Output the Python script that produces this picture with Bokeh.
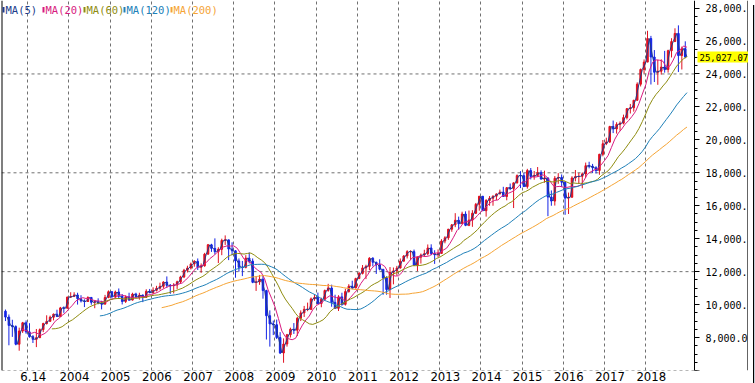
import numpy as np
import pandas as pd
from bokeh.plotting import figure
from bokeh.layouts import row
from bokeh.models import (FixedTicker, Label, BoxAnnotation, Span, Div, LinearAxis,
                          ColumnDataSource, Range1d)
from bokeh.embed import file_html
from bokeh.resources import INLINE

# ---------------- data (monthly bars) ----------------
MONTHS = pd.date_range("2002-06-01", "2018-12-01", freq="MS")
FIRST_OPEN = 9600

CLOSE = [
    9243, 8737, 8664, 7592, 8397, 8896, 8342,                                  # 2002 Jun-Dec
    8054, 7891, 7992, 8480, 8850, 8985, 9234, 9416, 9275, 9801, 9782, 10454,   # 2003
    10488, 10584, 10358, 10226, 10188, 10435, 10140, 10174, 10080, 10027, 10428, 10783,  # 2004
    10490, 10766, 10504, 10193, 10467, 10275, 10641, 10482, 10569, 10440, 10806, 10718,  # 2005
    10865, 10993, 11109, 11367, 11168, 11150, 11186, 11381, 11679, 12081, 12221, 12463,  # 2006
    12622, 12269, 12354, 13063, 13628, 13409, 13212, 13358, 13896, 13930, 13372, 13265,  # 2007
    12650, 12266, 12263, 12820, 12638, 11350, 11378, 11544, 10851, 9325, 8829, 8776,     # 2008
    8001, 7063, 7609, 8168, 8500, 8447, 9172, 9496, 9712, 9713, 10345, 10428,            # 2009
    10067, 10325, 10857, 11009, 10137, 9774, 10466, 10015, 10788, 11118, 11006, 11578,   # 2010
    11892, 12226, 12320, 12811, 12570, 12414, 12143, 11614, 10913, 11955, 12046, 12218,  # 2011
    12633, 12952, 13212, 13214, 12393, 12880, 13009, 13091, 13437, 13096, 13026, 13104,  # 2012
    13861, 14054, 14579, 14840, 15116, 14910, 15500, 14810, 15130, 15546, 16086, 16577,  # 2013
    15699, 16322, 16458, 16581, 16717, 16827, 16563, 17098, 17043, 17391, 17828, 17823,  # 2014
    17165, 18133, 17776, 17841, 18011, 17620, 17690, 16528, 16285, 17664, 17720, 17425,  # 2015
    16466, 16517, 17685, 17774, 17787, 17930, 18432, 18401, 18308, 18142, 19124, 19763,  # 2016
    19864, 20812, 20663, 20941, 21009, 21350, 21891, 21948, 22405, 23377, 24272, 24719,  # 2017
    26149, 25029, 24103, 24163, 24416, 24271, 25415, 25965, 26458, 25116, 25538, 25027.07,  # 2018
]
HIGH = [
    9700, 9400, 9080, 8740, 8600, 8950, 9040,
    8870, 8150, 8520, 8550, 8900, 9350, 9330, 9460, 9690, 9860, 9890, 10480,
    10750, 10750, 10720, 10570, 10320, 10500, 10460, 10220, 10380, 10230, 10590, 10860,
    10800, 10850, 10980, 10640, 10560, 10720, 10720, 10720, 10720, 10620, 10930, 10950,
    11050, 11140, 11330, 11420, 11710, 11250, 11300, 11450, 11750, 12170, 12360, 12550,
    12700, 12800, 12500, 13140, 13680, 13690, 14020, 13480, 14000, 14200, 13900, 13780,
    13300, 12800, 12650, 13000, 13170, 12800, 11700, 11800, 11800, 10900, 9650, 9030,
    9090, 8330, 7950, 8220, 8600, 8880, 9250, 9650, 9920, 10120, 10430, 10580,
    10730, 10420, 10910, 11260, 11210, 10600, 10570, 10720, 10960, 11240, 11450, 11630,
    11990, 12400, 12420, 12880, 12880, 12600, 12750, 12130, 11720, 12280, 12250, 12350,
    12800, 13000, 13300, 13300, 13340, 12900, 13100, 13330, 13650, 13660, 13300, 13350,
    13970, 14150, 14590, 14890, 15550, 15340, 15640, 15660, 15710, 15730, 16170, 16590,
    16590, 16400, 16590, 16630, 16740, 16980, 17150, 17130, 17350, 17400, 17900, 18100,
    18000, 18240, 18290, 18110, 18350, 18150, 18130, 17700, 16930, 17800, 17980, 17900,
    17500, 16800, 17790, 18170, 17990, 18020, 18620, 18670, 18540, 18400, 19150, 19990,
    20130, 20850, 21170, 21070, 21120, 21530, 21930, 22180, 22420, 23490, 24330, 24880,
    26620, 26310, 25450, 24860, 24890, 25400, 25470, 26170, 26770, 26950, 25660, 25980,
]
LOW = [
    9000, 7530, 8040, 7530, 7200, 8280, 8230,
    7990, 7670, 7420, 7990, 8330, 8790, 8960, 9040, 9270, 9370, 9500, 9780,
    10400, 10460, 10000, 10130, 9850, 10160, 9990, 9780, 10020, 9710, 10030, 10390,
    10370, 10370, 10400, 10010, 10100, 10220, 10250, 10400, 10300, 10150, 10400, 10700,
    10650, 10800, 10900, 10990, 11040, 10650, 10680, 10950, 11300, 11610, 11950, 12130,
    12300, 12100, 11930, 12300, 13040, 13200, 13050, 12520, 13000, 13620, 12700, 13000,
    11630, 12000, 11730, 12200, 12500, 11300, 10830, 11200, 10360, 7880, 7450, 8150,
    7910, 7000, 6470, 7450, 8000, 8220, 8090, 9000, 9250, 9600, 9670, 10230,
    10030, 9840, 10300, 10780, 9870, 9740, 9610, 9930, 9940, 10730, 10930, 11000,
    11550, 11830, 11550, 12100, 12320, 11860, 12080, 10600, 10600, 10400, 11230, 11770,
    12200, 12650, 12800, 12700, 12400, 12040, 12490, 12900, 13000, 13000, 12470, 12880,
    13100, 13720, 13930, 14420, 14700, 14550, 14900, 14760, 14760, 14720, 15500, 15700,
    15680, 15340, 16000, 16000, 16350, 16700, 16560, 16330, 16950, 15860, 17350, 17070,
    17140, 17040, 17600, 17580, 17760, 17580, 17400, 15370, 16000, 16010, 17330, 17140,
    15450, 15500, 16500, 17480, 17330, 17060, 17710, 18270, 17990, 17960, 17880, 19000,
    19680, 19830, 20410, 20380, 20550, 20940, 21240, 21600, 21710, 22370, 23240, 24020,
    24720, 23360, 23510, 23340, 23960, 24080, 24080, 25000, 25950, 24120, 24270, 24950,
]

MA_PERIODS = [5, 20, 60, 120, 200]          # weeks, as in the legend
MA_LABELS = ["MA(5)", "MA(20)", "MA(60)", "MA(120)", "MA(200)"]
MA_COLORS = ["#203c8c", "#d81b80", "#8f8c10", "#2080b8", "#f5a435"]

X_GRID_YEARS = list(range(2003, 2019))
X_TICK_LABELS = ["6.14"] + [str(y) for y in range(2004, 2019)]
Y_TICKS = [6000, 8000, 10000, 12000, 14000, 16000, 18000, 20000,
           22000, 24000, 26000, 28000]
Y_TICK_LABELS = ["", "8,000.0", "10,000.", "12,000.", "14,000.", "16,000.",
                 "18,000.", "20,000.", "22,000.", "24,000.", "26,000.", "28,000."]
Y_GRID = [6000, 12000, 18000, 24000]
LAST_PRICE = 25027.07
LAST_PRICE_TEXT = "25,027.07"

UP_COLOR = "#e01020"
DOWN_COLOR = "#1424e6"

# ---------------- geometry (pixels) ----------------
TOTAL_H = 383
P_W = 748                      # chart part; a 7px grey bar follows
FRAME_W = P_W - 1
FRAME_H = 368
PX_PER_YEAR = 41.2
X0 = 2002.362
X1 = X0 + FRAME_W / PX_PER_YEAR
AXIS_X = X0 + 693 / PX_PER_YEAR          # where the price axis line sits
Y0, Y1 = 6000, 28458
PX_Y = (Y1 - Y0) / FRAME_H               # value per pixel

# ---------------- derived columns ----------------
close = np.array(CLOSE, dtype=float)
open_ = np.concatenate([[FIRST_OPEN], close[:-1]])
x_mid = np.asarray(MONTHS.year + (MONTHS.month - 0.5) / 12.0)
x_end = np.asarray(MONTHS.year + MONTHS.month / 12.0)
colors = np.where(close >= open_, UP_COLOR, DOWN_COLOR)

src = ColumnDataSource(dict(
    x=x_mid, h=HIGH, l=LOW,
    top=np.maximum(open_, close), bottom=np.minimum(open_, close),
    color=colors,
))

# ---------------- figure ----------------
p = figure(width=P_W, height=TOTAL_H, output_backend="svg", toolbar_location=None,
           x_range=Range1d(X0, X1), y_range=Range1d(Y0, Y1),
           y_axis_location="right",
           min_border_left=1, min_border_right=0, min_border_top=0,
           min_border_bottom=0, background_fill_color="white",
           border_fill_color="white", outline_line_color=None)

# grids: vertical via the grid, horizontal as dashed rules ending at the axis
p.xgrid.ticker = FixedTicker(ticks=X_GRID_YEARS)
p.xgrid.grid_line_color = "#707070"
p.xgrid.grid_line_dash = "3 3"
p.ygrid.visible = False
p.segment(x0=[X0] * len(Y_GRID), y0=Y_GRID, x1=[AXIS_X] * len(Y_GRID), y1=Y_GRID,
          line_color="#707070", line_dash="3 3", line_width=1)

# x axis
label_offset = 0.133
xt = [y + label_offset for y in X_GRID_YEARS]
p.xaxis.ticker = FixedTicker(ticks=xt)
p.xaxis.major_label_overrides = {t: lab for t, lab in zip(xt, X_TICK_LABELS)}
p.xaxis.axis_line_color = None
p.xaxis.major_tick_line_color = None
p.xaxis.minor_tick_line_color = None
for attr in ("major_tick_in", "major_tick_out", "minor_tick_in", "minor_tick_out"):
    setattr(p.xaxis[0], attr, 0)
p.xaxis.major_label_standoff = 1
p.xaxis.major_label_text_font = "'Liberation Sans Narrow', 'DejaVu Sans Condensed', 'Liberation Sans', sans-serif"
p.xaxis.major_label_text_font_size = "13px"
p.xaxis.major_label_text_color = "black"

# a bare axis below the labels, used only as the bottom rule of the chart
rule = LinearAxis(ticker=FixedTicker(ticks=[]), axis_line_color="black",
                  major_tick_line_color=None, minor_tick_line_color=None,
                  major_tick_in=0, major_tick_out=0, minor_tick_in=0, minor_tick_out=0,
                  major_label_text_font_size="0px")
p.add_layout(rule, "below")

# y axis (right), drawn at the price-axis position inside the canvas
p.yaxis.fixed_location = AXIS_X
p.yaxis.ticker = FixedTicker(ticks=Y_TICKS, minor_ticks=list(range(6000, 28500, 500)))
p.yaxis.major_label_overrides = {t: lab for t, lab in zip(Y_TICKS, Y_TICK_LABELS)}
p.yaxis.axis_line_color = "black"
p.yaxis.major_tick_line_color = "black"
p.yaxis.minor_tick_line_color = "black"
p.yaxis.major_tick_in = 0
p.yaxis.major_tick_out = 5
p.yaxis.minor_tick_in = 0
p.yaxis.minor_tick_out = 3
p.yaxis.major_label_standoff = 6
p.yaxis.major_label_text_font = "DejaVu Sans Mono"
p.yaxis.major_label_text_font_size = "10px"
p.yaxis.major_label_text_color = "black"

# frame borders: left and right edges
p.add_layout(Span(location=X0, dimension="height", line_color="black", line_width=2))
p.add_layout(Span(location=X1 - 0.6 / PX_PER_YEAR, dimension="height",
                  line_color="black", line_width=1))

# candles
p.segment(x0="x", y0="h", x1="x", y1="l", line_color="color", line_width=1, source=src)
p.vbar(x="x", width=0.45 / 12, top="top", bottom="bottom",
       fill_color="color", line_color="color", line_width=1, source=src)

# moving averages
s = pd.Series(close)
for period, col in zip(MA_PERIODS, MA_COLORS):
    win = max(1, int(round(period * 12 / 52)))
    ma = s.rolling(win).mean().to_numpy()
    p.line(x_end, ma, line_color=col, line_width=1)

# legend (top-left), placed from the top of the frame
LEGEND_X = [1, 41, 82, 122, 169]
for lx, lab, col in zip(LEGEND_X, MA_LABELS, MA_COLORS):
    p.add_layout(BoxAnnotation(left=lx, right=lx + 2,
                               bottom=Y1 - 12 * PX_Y, top=Y1 - 6.5 * PX_Y,
                               left_units="screen", right_units="screen",
                               fill_color=col, fill_alpha=1, line_color=None))
    p.add_layout(Label(x=lx + 3, y=Y1 - 9 * PX_Y, x_units="screen", y_units="data",
                       text=lab, text_color=col, text_font="DejaVu Sans Mono",
                       text_font_size="10.5px", text_baseline="middle"))

# last-price box on the axis
price = Label(x=696, y=LAST_PRICE, x_units="screen", y_units="data",
              text=LAST_PRICE_TEXT, text_color="black",
              text_font="DejaVu Sans Mono", text_font_size="9px",
              text_baseline="middle", background_fill_color="#ffff00",
              background_fill_alpha=1)
try:
    price.padding = 2
except Exception:
    pass
p.add_layout(price)

# grey strip at the right edge of the window
bar = Div(width=7, height=TOTAL_H,
          styles={"background-color": "#c8ccd6", "border-left": "1px solid black",
                  "box-sizing": "border-box"})

layout = row(p, bar, spacing=0)

open("out.html", "w").write(file_html(layout, INLINE))
